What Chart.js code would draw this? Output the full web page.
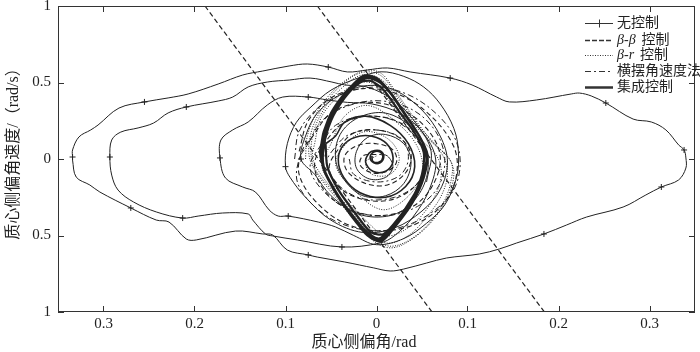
<!DOCTYPE html>
<html>
<head>
<meta charset="utf-8">
<script src="https://cdn.jsdelivr.net/npm/chart.js@4"></script>
<style>
  html, body { margin: 0; padding: 0; background: #fff; }
  canvas { display: block; }
</style>
</head>
<body>
<canvas id="chart" width="700" height="352"></canvas>
<script>
// axis ticks (labels printed without minus sign, as in the figure)
const xTicks = [-0.3, -0.2, -0.1, 0, 0.1, 0.2, 0.3];
const xTickLabels = ['0.3', '0.2', '0.1', '0', '0.1', '0.2', '0.3'];
const yTicks = [-1, -0.5, 0, 0.5, 1];
const yTickLabels = ['1', '0.5', '0', '0.5', '1'];

const legendLabels = ['无控制', 'β-β 控制', 'β-r 控制', '横摆角速度法', '集成控制'];

// 无控制: large outer loop
const noCtrlOuter = [
  [-0.334, 0.013], [-0.334, 0.059], [-0.327, 0.144], [-0.314, 0.19], [-0.306, 0.222],
  [-0.283, 0.333], [-0.255, 0.373], [-0.229, 0.399], [-0.207, 0.425], [-0.174, 0.49],
  [-0.147, 0.549], [-0.125, 0.575], [-0.096, 0.608], [-0.076, 0.621], [-0.053, 0.601],
  [-0.032, 0.569], [-0.01, 0.582], [0.012, 0.595], [0.037, 0.569], [0.081, 0.529],
  [0.105, 0.484], [0.132, 0.405], [0.146, 0.373], [0.176, 0.386], [0.214, 0.425],
  [0.223, 0.431], [0.236, 0.412], [0.252, 0.366], [0.282, 0.261], [0.302, 0.242],
  [0.318, 0.19], [0.332, 0.092], [0.338, 0.059], [0.34, 0.007], [0.34, -0.059],
  [0.332, -0.137], [0.313, -0.183], [0.296, -0.235], [0.271, -0.314], [0.231, -0.379],
  [0.209, -0.431], [0.184, -0.49], [0.154, -0.549], [0.135, -0.588], [0.113, -0.621],
  [0.077, -0.647], [0.055, -0.68], [0.03, -0.719], [0.015, -0.732], [-0.003, -0.712],
  [-0.035, -0.673], [-0.065, -0.641], [-0.075, -0.627], [-0.098, -0.595], [-0.114, -0.497],
  [-0.125, -0.49], [-0.155, -0.471], [-0.198, -0.529], [-0.209, -0.523], [-0.228, -0.412],
  [-0.242, -0.399], [-0.27, -0.32], [-0.304, -0.216], [-0.315, -0.17], [-0.33, -0.118],
  [-0.334, -0.007], [-0.334, 0.013]
];

// 无控制: spiral growing from the centre
const noCtrlInner = [
  [0.003, 0.03], [0.012, 0.02], [0.018, -0.05], [0.01, -0.12], [-0.008, -0.13], [-0.022, -0.06],
  [-0.022, 0.05], [-0.01, 0.14], [0.01, 0.16], [0.03, 0.1], [0.038, -0.02], [0.03, -0.16],
  [0.01, -0.24], [-0.015, -0.24], [-0.035, -0.14], [-0.045, 0.0], [-0.04, 0.16], [-0.02, 0.27],
  [0.01, 0.3], [0.04, 0.2], [0.055, 0.05], [0.055, -0.12], [0.04, -0.28], [0.015, -0.37],
  [-0.02, -0.36], [-0.05, -0.24], [-0.068, -0.1],
  [-0.083, 0.0], [-0.078, 0.15], [-0.065, 0.3], [-0.04, 0.42], [-0.01, 0.48], [0.02, 0.45],
  [0.05, 0.32], [0.07, 0.15], [0.078, -0.02], [0.07, -0.2], [0.05, -0.34], [0.02, -0.45],
  [-0.015, -0.48], [-0.05, -0.4], [-0.078, -0.25], [-0.095, -0.12],
  [-0.1, -0.05], [-0.098, 0.1], [-0.088, 0.24], [-0.072, 0.34], [-0.05, 0.45], [-0.02, 0.53],
  [0.005, 0.57], [0.03, 0.54], [0.052, 0.47], [0.07, 0.36], [0.085, 0.2], [0.09, 0.05],
  [0.088, -0.12], [0.075, -0.3], [0.055, -0.42], [0.03, -0.52], [0.0, -0.56], [-0.025, -0.5],
  [-0.045, -0.444], [-0.064, -0.412], [-0.097, -0.373], [-0.108, -0.373], [-0.118, -0.333],
  [-0.133, -0.216], [-0.147, -0.183], [-0.166, -0.124], [-0.172, 0.007], [-0.171, 0.124],
  [-0.158, 0.19], [-0.141, 0.242], [-0.12, 0.353], [-0.103, 0.405], [-0.075, 0.405],
  [-0.054, 0.386], [-0.032, 0.37], [-0.005, 0.36], [0.025, 0.3], [0.05, 0.18], [0.065, 0.0],
  [0.058, -0.2], [0.04, -0.38], [0.02, -0.5], [0.004, -0.549],
  [-0.038, -0.575], [-0.087, -0.529], [-0.114, -0.503], [-0.122, -0.49], [-0.136, -0.399],
  [-0.141, -0.359], [-0.169, -0.353], [-0.196, -0.373], [-0.213, -0.386], [-0.242, -0.346],
  [-0.267, -0.281], [-0.284, -0.203], [-0.291, -0.105], [-0.293, 0.013], [-0.291, 0.124],
  [-0.281, 0.176], [-0.262, 0.203], [-0.245, 0.235], [-0.229, 0.301], [-0.209, 0.34],
  [-0.174, 0.379], [-0.158, 0.405], [-0.141, 0.471], [-0.12, 0.503], [-0.096, 0.516],
  [-0.073, 0.529], [-0.049, 0.503], [-0.035, 0.484], [-0.01, 0.47], [0.02, 0.38],
  [0.045, 0.22], [0.06, 0.05], [0.055, -0.15]
];

// "+" markers on the 无控制 curves
const noCtrlMarks = [
  [-0.334, 0.013], [-0.255, 0.373], [-0.053, 0.601], [0.081, 0.529], [0.252, 0.366],
  [0.338, 0.059], [0.313, -0.183], [0.184, -0.49], [-0.075, -0.627], [-0.27, -0.32],
  [-0.038, -0.575], [-0.213, -0.386], [-0.293, 0.013], [-0.209, 0.34], [-0.097, -0.373],
  [-0.172, 0.007], [-0.075, 0.405], [-0.1, -0.05], [-0.083, 0.0]
];

// β-β 控制: stability boundary lines and trajectory
const bbBound1 = [[-0.1885, 1], [0.061, -1]];
const bbBound2 = [[-0.065, 1], [0.1845, -1]];
const betaBeta = [
  [-0.085, 0.05], [-0.075, 0.25], [-0.05, 0.4], [-0.015, 0.46], [0.025, 0.42], [0.06, 0.28],
  [0.085, 0.08], [0.088, -0.1], [0.075, -0.28], [0.045, -0.42], [0.005, -0.47], [-0.035, -0.42],
  [-0.068, -0.27], [-0.085, -0.1], [-0.082, 0.05],
  [-0.07, 0.15], [-0.05, 0.3], [-0.015, 0.37], [0.025, 0.33], [0.055, 0.2], [0.07, 0.02],
  [0.062, -0.17], [0.04, -0.31], [0.005, -0.37], [-0.03, -0.33], [-0.058, -0.2], [-0.068, -0.03],
  [-0.055, 0.12], [-0.035, 0.24], [-0.005, 0.28], [0.025, 0.24], [0.048, 0.12], [0.055, -0.02],
  [0.045, -0.16], [0.02, -0.26], [-0.01, -0.27], [-0.038, -0.2], [-0.052, -0.06],
  [-0.04, 0.08], [-0.025, 0.17], [0.0, 0.19], [0.025, 0.14], [0.038, 0.03], [0.032, -0.09],
  [0.012, -0.17], [-0.012, -0.16], [-0.032, -0.08],
  [-0.035, 0.02], [-0.02, 0.09], [0.0, 0.1], [0.018, 0.06], [0.022, -0.02], [0.012, -0.08],
  [-0.005, -0.09], [-0.018, -0.04], [-0.015, 0.02], [0.0, 0.03]
];

// β-r 控制
const betaR = [
  [-0.078, 0.0], [-0.076, 0.15], [-0.066, 0.3], [-0.05, 0.43], [-0.03, 0.53], [-0.012, 0.58],
  [0.005, 0.56], [0.02, 0.45], [0.04, 0.28], [0.06, 0.12], [0.08, 0.0], [0.085, -0.1],
  [0.078, -0.25], [0.062, -0.4], [0.04, -0.52], [0.018, -0.58], [0.0, -0.55], [-0.02, -0.43],
  [-0.045, -0.25], [-0.065, -0.1],
  [-0.074, 0.02], [-0.072, 0.17], [-0.062, 0.31], [-0.046, 0.44], [-0.026, 0.54], [-0.01, 0.57],
  [0.006, 0.54], [0.022, 0.42], [0.042, 0.25], [0.064, 0.1], [0.082, -0.02], [0.082, -0.14],
  [0.074, -0.28], [0.058, -0.42], [0.036, -0.53], [0.015, -0.57], [-0.002, -0.52], [-0.024, -0.38],
  [-0.05, -0.2], [-0.068, -0.06],
  [-0.072, 0.05], [-0.068, 0.2], [-0.055, 0.35], [-0.035, 0.48], [-0.015, 0.55], [0.005, 0.52],
  [0.025, 0.38], [0.045, 0.2], [0.07, 0.05], [0.078, -0.08], [0.072, -0.23], [0.055, -0.38],
  [0.035, -0.5], [0.012, -0.55], [-0.008, -0.48], [-0.03, -0.32], [-0.055, -0.15], [-0.07, 0.0],
  [-0.068, 0.1], [-0.06, 0.28], [-0.04, 0.42], [-0.02, 0.5], [0.0, 0.48], [0.02, 0.33],
  [0.045, 0.15], [0.068, 0.0], [0.07, -0.15], [0.055, -0.33], [0.032, -0.46], [0.01, -0.5],
  [-0.012, -0.4], [-0.04, -0.22], [-0.06, -0.05],
  [-0.05, 0.1], [-0.035, 0.28], [-0.01, 0.35], [0.02, 0.25], [0.045, 0.08], [0.05, -0.1],
  [0.03, -0.27], [0.005, -0.33], [-0.025, -0.2], [-0.045, -0.03], [-0.03, 0.12], [-0.01, 0.18],
  [0.015, 0.12], [0.025, 0.0], [0.015, -0.1], [-0.005, -0.1], [-0.012, -0.02], [0.0, 0.02]
];

// 横摆角速度法
const yawRate = [
  [-0.09, 0.0], [-0.085, 0.18], [-0.065, 0.33], [-0.035, 0.43], [0.0, 0.47], [0.035, 0.42],
  [0.065, 0.3], [0.085, 0.15], [0.092, -0.02], [0.085, -0.2], [0.065, -0.33], [0.035, -0.43],
  [0.0, -0.47], [-0.04, -0.42], [-0.07, -0.3], [-0.087, -0.15], [-0.085, 0.0],
  [-0.075, 0.1], [-0.06, 0.25], [-0.03, 0.35], [0.005, 0.38], [0.04, 0.32], [0.065, 0.18],
  [0.075, 0.0], [0.068, -0.18], [0.045, -0.31], [0.01, -0.37], [-0.03, -0.33], [-0.06, -0.2],
  [-0.073, -0.05],
  [-0.06, 0.1], [-0.045, 0.22], [-0.015, 0.28], [0.02, 0.25], [0.045, 0.13], [0.055, -0.02],
  [0.045, -0.16], [0.02, -0.25], [-0.015, -0.26], [-0.042, -0.17], [-0.055, -0.03],
  [-0.045, 0.08], [-0.03, 0.16], [0.0, 0.19], [0.028, 0.13], [0.035, 0.0], [0.025, -0.11],
  [0.0, -0.15], [-0.025, -0.1], [-0.03, 0.0]
];

// 集成控制: loops along the diamond-shaped boundary
const integrated = [
  [-0.062, 0.04], [-0.058, 0.18], [-0.047, 0.33], [-0.03, 0.46], [-0.014, 0.545], [0.0, 0.53],
  [0.014, 0.44], [0.03, 0.3], [0.046, 0.16], [0.056, 0.03], [0.052, -0.12], [0.04, -0.28],
  [0.022, -0.43], [0.005, -0.54], [-0.01, -0.5], [-0.026, -0.38], [-0.043, -0.23], [-0.056, -0.09],
  [-0.062, 0.04],
  [-0.058, 0.16], [-0.05, 0.3], [-0.032, 0.45], [-0.012, 0.535], [0.002, 0.52], [0.016, 0.43],
  [0.032, 0.29], [0.047, 0.15], [0.056, 0.02], [0.05, -0.14], [0.036, -0.3], [0.02, -0.44],
  [0.004, -0.53], [-0.011, -0.49], [-0.028, -0.37], [-0.045, -0.22], [-0.058, -0.07], [-0.06, 0.05],
  [-0.055, 0.2], [-0.04, 0.37], [-0.022, 0.49], [-0.01, 0.53], [0.004, 0.5], [0.018, 0.41],
  [0.034, 0.27], [0.049, 0.13], [0.055, 0.0], [0.048, -0.16], [0.03, -0.34], [0.015, -0.46],
  [0.002, -0.52], [-0.012, -0.47], [-0.03, -0.34], [-0.047, -0.2], [-0.058, -0.05], [-0.058, 0.08],
  [-0.05, 0.25], [-0.035, 0.4], [-0.018, 0.5], [-0.006, 0.51], [0.008, 0.45], [0.025, 0.31],
  [0.042, 0.17], [0.052, 0.04], [0.05, -0.1], [0.04, -0.25], [0.025, -0.38], [0.008, -0.49],
  [-0.006, -0.48], [-0.024, -0.35], [-0.042, -0.2], [-0.054, -0.05], [-0.056, 0.1]
];

// 集成控制: final convergence to the origin
const integratedCore = [
  [-0.056, 0.1], [-0.045, 0.15], [-0.035, 0.24], [-0.012, 0.28], [0.015, 0.22], [0.035, 0.1],
  [0.042, -0.05], [0.032, -0.18], [0.01, -0.25], [-0.018, -0.22], [-0.036, -0.12], [-0.042, 0.0],
  [-0.035, 0.1], [-0.018, 0.15], [0.0, 0.14], [0.014, 0.08], [0.018, -0.02], [0.01, -0.08],
  [-0.004, -0.08], [-0.012, -0.02], [-0.008, 0.04], [-0.002, 0.055], [0.005, 0.05], [0.008, 0.013],
  [0.004, -0.025], [-0.003, -0.025], [-0.007, 0.01], [-0.003, 0.045], [0.004, 0.045], [0.007, 0.013],
  [0.003, -0.02], [-0.004, -0.015], [-0.005, 0.02]
];

const ink = '#222';
const pts = arr => arr.map(p => ({ x: p[0], y: p[1] }));
const line = (data, width, dash, extra) => Object.assign({
  data: pts(data), showLine: true, borderColor: ink, borderWidth: width,
  borderDash: dash, pointRadius: 0, tension: 0.35, fill: false
}, extra || {});

const numFont = { family: '"Liberation Serif", "Times New Roman", serif', size: 15 };
const cjkFont = '"Liberation Serif", "Noto Sans CJK SC", serif';

// box, inward ticks, axis titles and legend
const framePlugin = {
  id: 'frame',
  afterDraw(chart) {
    const c = chart.ctx, a = chart.chartArea;
    const xs = chart.scales.x, ys = chart.scales.y;
    c.save();
    c.strokeStyle = '#333';
    c.lineWidth = 1;
    c.strokeRect(a.left + 0.5, a.top + 0.5, a.right - a.left - 1, a.bottom - a.top - 1);
    c.beginPath();
    xTicks.forEach(v => {
      const px = Math.round(xs.getPixelForValue(v)) + 0.5;
      c.moveTo(px, a.bottom); c.lineTo(px, a.bottom - 6);
      c.moveTo(px, a.top); c.lineTo(px, a.top + 6);
    });
    yTicks.forEach(v => {
      const py = Math.round(ys.getPixelForValue(v)) + 0.5;
      c.moveTo(a.left, py); c.lineTo(a.left + 6, py);
      c.moveTo(a.right, py); c.lineTo(a.right - 6, py);
    });
    c.stroke();

    // axis titles
    c.fillStyle = ink;
    c.font = '16px ' + cjkFont;
    c.textAlign = 'center';
    c.textBaseline = 'middle';
    c.fillText('质心侧偏角/rad', 364, 343);
    c.save();
    c.translate(14, 150);
    c.rotate(-Math.PI / 2);
    c.fillText('质心侧偏角速度/（rad/s）', 0, 0);
    c.restore();

    // legend
    const rows = [23, 40, 55, 71, 87];
    const x0 = 585, x1 = 613, tx = 617;
    const styles = [
      { w: 1, dash: [] }, { w: 1.5, dash: [5, 2] }, { w: 1, dash: [1, 1.5] },
      { w: 1.2, dash: [6, 3, 2, 3] }, { w: 2.5, dash: [] }
    ];
    legendLabels.forEach((lab, i) => {
      const y = rows[i] + 0.5;
      c.lineWidth = styles[i].w;
      c.setLineDash(styles[i].dash);
      c.beginPath(); c.moveTo(x0, y); c.lineTo(x1, y); c.stroke();
      c.setLineDash([]);
      if (i === 0) {
        c.lineWidth = 1;
        c.beginPath(); c.moveTo(599.5, y - 4); c.lineTo(599.5, y + 4); c.stroke();
      }
      c.textAlign = 'left';
      const m = lab.match(/^(β-[βr])\s(.*)$/);
      let x = tx;
      if (m) {
        c.font = 'italic 14px "Liberation Serif", serif';
        c.fillText(m[1], x, y);
        x += c.measureText(m[1]).width + 6;
        c.font = '14px ' + cjkFont;
        c.fillText(m[2], x, y);
      } else {
        c.font = '14px ' + cjkFont;
        c.fillText(lab, x, y);
      }
    });
    c.restore();
  }
};

new Chart(document.getElementById('chart'), {
  type: 'scatter',
  data: {
    datasets: [
      line(integrated, 2.2, [], { label: legendLabels[4], tension: 0.25 }),
      line(integratedCore, 1.6, [], { label: legendLabels[4] }),
      line(noCtrlOuter, 1, [], { label: legendLabels[0] }),
      line(noCtrlInner, 1, [], { label: legendLabels[0] }),
      { label: legendLabels[0], data: pts(noCtrlMarks), showLine: false, pointStyle: 'cross',
        pointRadius: 3, pointBorderColor: ink, pointBorderWidth: 1 },
      line(bbBound1, 1.2, [5, 3], { label: legendLabels[1], tension: 0 }),
      line(bbBound2, 1.2, [5, 3], { label: legendLabels[1], tension: 0 }),
      line(betaBeta, 1.1, [5, 3], { label: legendLabels[1] }),
      line(betaR, 1, [1, 1.5], { label: legendLabels[2] }),
      line(yawRate, 1, [6, 3, 2, 3], { label: legendLabels[3] })
    ]
  },
  options: {
    responsive: false,
    animation: false,
    layout: { padding: { top: 6, right: 1, left: 0, bottom: 0 } },
    plugins: { legend: { display: false }, tooltip: { enabled: false } },
    scales: {
      x: {
        type: 'linear', min: -0.35, max: 0.35,
        grid: { display: false, drawTicks: false }, border: { display: false },
        afterBuildTicks: s => { s.ticks = xTicks.map(v => ({ value: v })); },
        afterFit: s => { s.height = 40; s.paddingLeft = 0; s.paddingRight = 0; },
        ticks: { callback: (v, i) => xTickLabels[i], font: numFont, color: ink,
                 padding: 3, maxRotation: 0, autoSkip: false }
      },
      y: {
        type: 'linear', min: -1, max: 1,
        grid: { display: false, drawTicks: false }, border: { display: false },
        afterBuildTicks: s => { s.ticks = yTicks.map(v => ({ value: v })); },
        afterFit: s => { s.width = 58; s.paddingTop = 0; s.paddingBottom = 0; },
        ticks: { callback: (v, i) => yTickLabels[i], font: numFont, color: ink,
                 padding: 7, autoSkip: false }
      }
    }
  },
  plugins: [framePlugin]
});
</script>
</body>
</html>
